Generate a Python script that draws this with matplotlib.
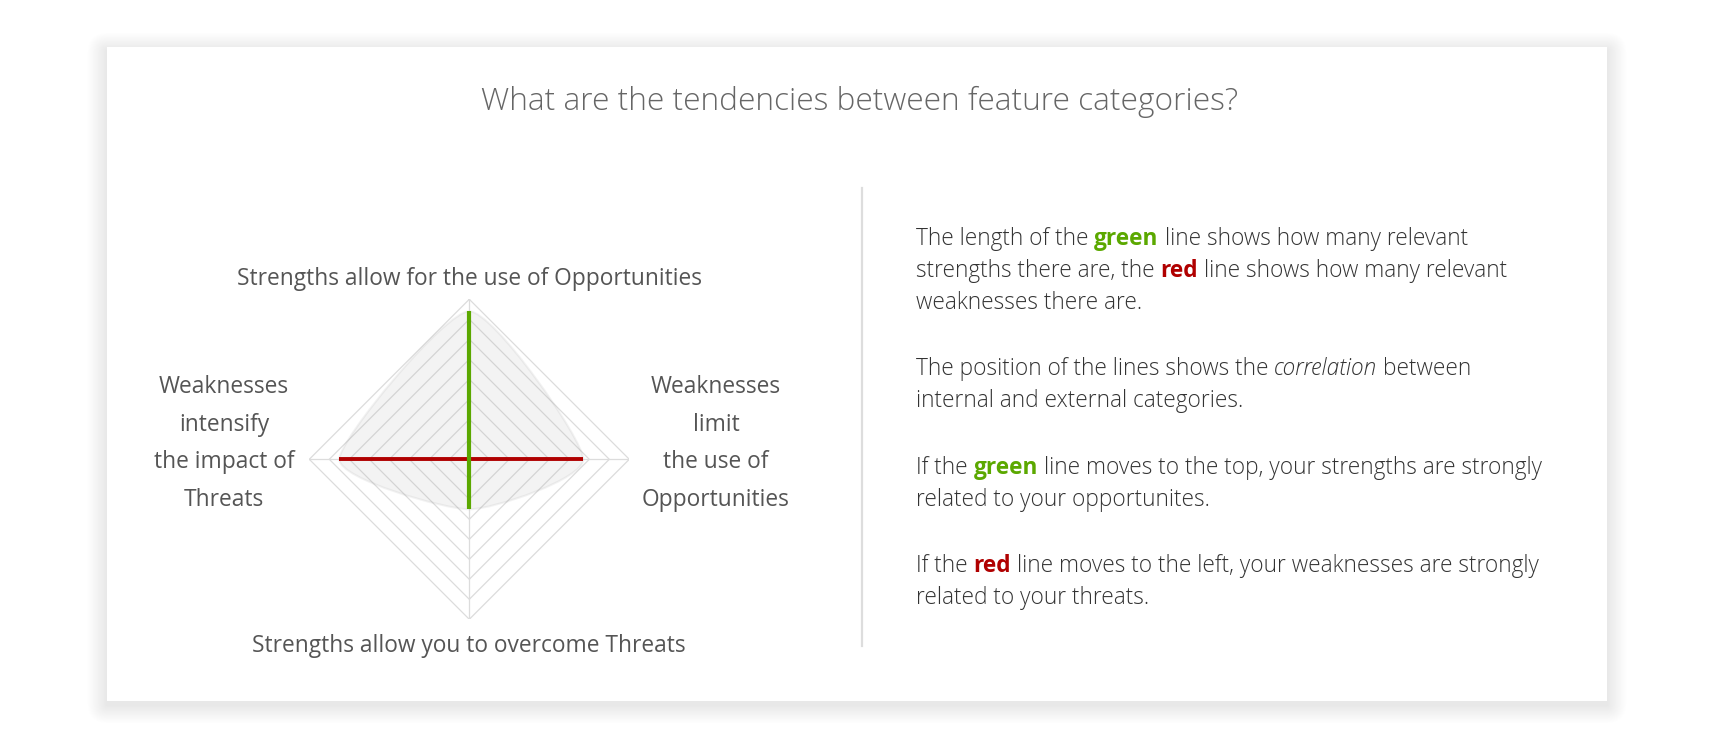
import numpy as np
import matplotlib
matplotlib.use('Agg')
import matplotlib.pyplot as plt
from matplotlib.patches import FancyBboxPatch, PathPatch
from matplotlib.path import Path

# radar data (scale 0..8, one ring per unit)
axis_names = ['Strengths allow for the use of Opportunities',
              'Weaknesses\nlimit\nthe use of\nOpportunities',
              'Strengths allow you to overcome Threats',
              'Weaknesses\nintensify\nthe impact of\nThreats']
strengths = [7.4, 2.5]    # top (S-O), bottom (S-T)
weaknesses = [5.7, 6.5]   # right (W-O), left (W-T)
n_rings = 8

title = 'What are the tendencies between feature categories?'

GREEN = '#5ba800'
RED = '#b00000'
TXT = '#333333'
FONT = 'Open Sans'

W, H = 1714, 748
fig = plt.figure(figsize=(W / 100, H / 100), dpi=100)
fig.patch.set_facecolor('white')

bg = fig.add_axes([0, 0, 1, 1])
bg.set_xlim(0, W)
bg.set_ylim(H, 0)
bg.axis('off')

# card with soft shadow
cx0, cy0, cx1, cy1 = 107, 47, 1607, 701
n_sh = 46
for d in range(n_sh, 0, -1):
    bg.add_patch(FancyBboxPatch((cx0 - d * 0.85, cy0 - d * 0.8 + 4),
                                cx1 - cx0 + d * 1.7, cy1 - cy0 + d * 1.6,
                                boxstyle='round,pad=0,rounding_size=%f' % (d * 0.9),
                                fc='black', ec='none',
                                alpha=0.0048 * (1 - d / (n_sh + 1)) ** 1.3))
bg.add_patch(plt.Rectangle((cx0, cy0), cx1 - cx0, cy1 - cy0, fc='white', ec='none'))

# divider
bg.plot([862, 862], [188, 646], color='#dddddd', lw=1.6)

bg.text(860, 102, title, ha='center', va='center', fontsize=22.8,
        family=FONT, weight='light', color='#666666')

# radar
rc_x, rc_y, rad = 469.3, 459.3, 160
rx = fig.add_axes([(rc_x - rad) / W, (H - rc_y - rad) / H, 2 * rad / W, 2 * rad / H])
rx.set_xlim(-n_rings, n_rings)
rx.set_ylim(-n_rings, n_rings)
rx.axis('off')

for r in range(1, n_rings + 1):
    rx.plot([0, r, 0, -r, 0], [r, 0, -r, 0, r], color='#dcdcdc', lw=0.9, zorder=1)
rx.plot([0, 0], [-n_rings, n_rings], color='#dcdcdc', lw=0.9, zorder=1)
rx.plot([-n_rings, n_rings], [0, 0], color='#dcdcdc', lw=0.9, zorder=1)

# smoothed filled area through the four axis values
pts = np.array([[0, strengths[0]], [weaknesses[0], 0],
                [0, -strengths[1]], [-weaknesses[1], 0]])
k = 0.1
verts, codes = [pts[0]], [Path.MOVETO]
for i in range(4):
    p0, p1, p2, p3 = pts[i - 1], pts[i], pts[(i + 1) % 4], pts[(i + 2) % 4]
    verts += [p1 + (p2 - p0) * k, p2 - (p3 - p1) * k, p2]
    codes += [Path.CURVE4] * 3
rx.add_patch(PathPatch(Path(verts, codes), fc='#a0a0a0', ec='#999999',
                       alpha=0.12, lw=1.5, zorder=2))

rx.plot([0, 0], [strengths[0], -strengths[1]], color=GREEN, lw=3.0,
        solid_capstyle='butt', zorder=4)
rx.plot([-weaknesses[1], weaknesses[0]], [0, 0], color=RED, lw=2.8,
        solid_capstyle='butt', zorder=3)

lab = dict(family=FONT, fontsize=16.4, color='#555555', ha='center', va='center')
bg.text(rc_x, 279, axis_names[0], **lab)
bg.text(rc_x, 646, axis_names[2], **lab)
for i, line in enumerate(axis_names[1].split('\n')):
    bg.text(716, 387 + i * 37.5, line, **lab)
for i, line in enumerate(axis_names[3].split('\n')):
    bg.text(224, 387 + i * 37.5, line, **lab)

# explanatory text with inline highlights
fs = 16.3
body = dict(family=FONT, fontsize=fs, color=TXT, weight='light')
bold_g = dict(family=FONT, fontsize=fs, color=GREEN, weight='bold')
bold_r = dict(family=FONT, fontsize=fs, color=RED, weight='bold')
ital = dict(family=FONT, fontsize=fs, color=TXT, weight='light', style='italic')

renderer = fig.canvas.get_renderer()


def ink_w(s, style):
    t = bg.text(0, 0, s, **style)
    w = t.get_window_extent(renderer).width
    t.remove()
    return w


gap = ink_w('n n', body) - 2 * ink_w('n', body)


def rich_line(x, y, parts):
    for s, style in parts:
        word = s.strip()
        if s.startswith(' '):
            x += gap
        bg.text(x, y, word, va='center', ha='left', **style)
        x += ink_w(word, style)
        if s.endswith(' '):
            x += gap


lines = [
    (239, [('The length of the ', body), ('green', bold_g), (' line shows how many relevant', body)]),
    (271, [('strengths there are, the ', body), ('red', bold_r), (' line shows how many relevant', body)]),
    (303, [('weaknesses there are.', body)]),
    (369, [('The position of the lines shows the ', body), ('correlation', ital), (' between', body)]),
    (401, [('internal and external categories.', body)]),
    (468, [('If the ', body), ('green', bold_g), (' line moves to the top, your strengths are strongly', body)]),
    (500, [('related to your opportunites.', body)]),
    (566, [('If the ', body), ('red', bold_r), (' line moves to the left, your weaknesses are strongly', body)]),
    (598, [('related to your threats.', body)]),
]
for y, parts in lines:
    rich_line(916, y, parts)

plt.savefig('out.png', dpi=100)
